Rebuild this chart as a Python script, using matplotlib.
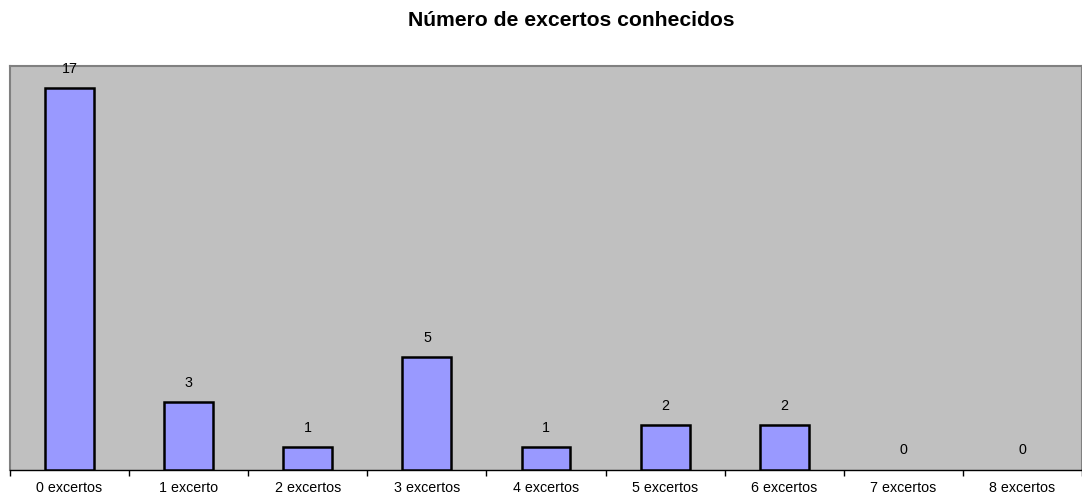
import matplotlib.pyplot as plt
import numpy as np

plt.rcParams['font.family'] = ['Liberation Sans', 'DejaVu Sans']

categories = ["0 excertos", "1 excerto", "2 excertos", "3 excertos", "4 excertos",
              "5 excertos", "6 excertos", "7 excertos", "8 excertos"]
counts = [17, 3, 1, 5, 1, 2, 2, 0, 0]

fig = plt.figure(figsize=(10.82, 4.97), dpi=100)
ax = fig.add_axes([10 / 1082, 1 - 469.5 / 497, 1072 / 1082, (469.5 - 66) / 497])
ax.set_facecolor("#C0C0C0")

x = np.arange(len(categories))
# zero-height bars have no visible outline in the original
widths = [1.8 if v > 0 else 0 for v in counts]
ax.bar(x, counts, width=0.41, color="#9999FF", edgecolor="black", linewidth=widths, zorder=3)
for xi, v in zip(x, counts):
    ax.annotate(str(v), (xi, v), xytext=(0, 13.8), textcoords="offset points",
                ha="center", va="center", fontsize=10.3)

ax.set_xlim(-0.5, len(categories) - 0.5)
ax.set_ylim(0, 18)
ax.set_yticks([])
ax.set_xticks(x)
ax.set_xticklabels(categories, fontsize=10.3)
ax.tick_params(axis="x", which="major", length=0, pad=8.5)
ax.set_xticks(np.arange(-0.5, len(categories), 1), minor=True)
ax.tick_params(axis="x", which="minor", length=4, width=1, color="black")

for side in ["top", "left", "right"]:
    ax.spines[side].set_color("#808080")
    ax.spines[side].set_linewidth(1.5)
ax.spines["bottom"].set_color("black")
ax.spines["bottom"].set_linewidth(1)

fig.text(571 / 1082, 1 - 20 / 497, "Número de excertos conhecidos", ha="center", va="center",
         fontsize=15.2, fontweight="bold")

fig.savefig("out.png", dpi=100)
